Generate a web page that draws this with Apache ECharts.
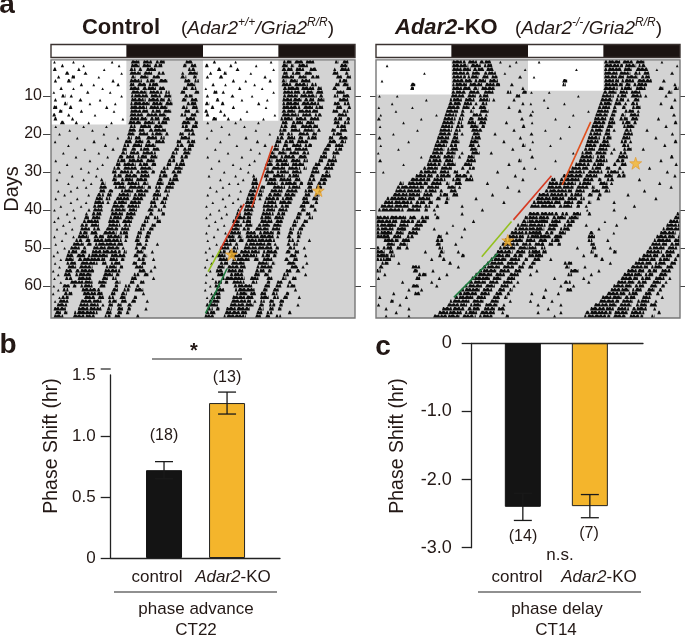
<!DOCTYPE html>
<html><head><meta charset="utf-8">
<style>html,body{margin:0;padding:0;background:#fff}#c{width:685px;height:635px}</style>
<script src="https://cdn.jsdelivr.net/npm/echarts@6/dist/echarts.min.js"></script></head>
<body><div id="c"></div>
<script>
// Per-day activity bouts (flat start,end pairs, in hours of the 48 h row)
const controlBouts = [
[.4,.7,3.4,3.7,9.5,9.8,12.6,14,14.5,16,16.5,18,21.2,22.4],
[1.6,2,5,5.3,10.6,10.9,12.6,14,14.4,15.8,16.2,17.6,20.8,21.4,22,23],
[.3,.9,4.2,4.6,8.3,8.5,12.4,13.4,13.8,14.4,15,16.6,21.6,22.8],
[2.2,2.9,5.2,5.7,11,11.3,12.4,14.2,14.6,16,16.8,18,20.6,21,21.6,23.2],
[1,1.4,3.2,3.8,7.4,7.7,12.6,13.4,14,15.4,16,17.2,20.4,21.4,22.4,23],
[.5,.9,2.5,3.2,9.6,10,12.4,14.4,15,16.4,17,18.4,21,22,22.6,23.4],
[4.6,5,6.6,6.9,10.4,10.8,12.4,13.2,13.6,15,15.4,17,21.4,22.8],
[1.4,1.8,3.4,3.7,8,8.3,12.4,14,14.4,16.6,17,18,20.8,21.6,22,23],
[.3,.6,5.6,6,9.2,9.5,12.6,15.2,15.5,17.6,18,18.8,20.4,21.2,22.6,23.4],
[1.6,2.3,3,3.4,11,11.3,12.6,15.4,15.7,17.4,17.8,19,21,22.4],
[.5,.9,4.4,4.9,7.6,7.9,12.6,15,15.3,18,18.3,19,20.6,21.4,22,23.2],
[2,2.6,6,6.3,10,10.3,12.5,15.6,15.9,17.6,18,19.2,21.4,23],
[.3,1,2.8,3.4,8.6,9,12.5,15.2,15.5,18.4,20.6,21.6,22.2,23.2],
[1.2,1.8,4.6,5,9.8,10.1,12.5,15.4,15.8,17.4,17.7,19,21,22,22.8,23.4],
[.2,.8,2.6,3,6.8,7.1,12.4,14.6,15,18.2,20.4,21.4,22,23],
[.4,1,3.2,3.6,11.2,11.5,12.4,15.2,15.6,17.2,17.6,18.8,21.2,22.8],
[1.4,2.2,3.8,4.2,5.8,6.1,9.4,9.7,12.2,14.2,14.6,16.4,16.8,18.4,20.6,22,22.6,23.2],
[.6,.9,5,5.3,8.6,8.9,12.4,13.4,14,15.8,16.2,17.6,20.6,21.6,22.2,23.2],
[2.8,3.1,6.4,6.7,12.2,13.4,13.8,14.8,15.4,18.2,21,22.6],
[1.2,1.5,8.2,8.5,12,13.2,13.8,15.4,15.8,17.6,18,18.6,20.2,21,21.6,22.8],
[4,4.3,10.4,10.7,12,12.8,13.2,14.2,15,16.8,17.2,18,20.4,22],
[.5,.8,6.6,7,11.6,12.8,13.2,14.6,15,15.8,16.4,18,19.8,20.6,21.4,22.8],
[2.6,2.9,8.4,8.8,11.4,12.4,12.8,14.4,14.8,16.6,19.8,21,21.6,22.6],
[5.2,5.5,9.6,10,11.2,12,12.6,13.4,14,15.6,16,17.2,19.4,20.2,20.8,22.2],
[1.8,2.1,7.4,7.7,11,12,12.4,14,14.4,16.6,19,20,20.8,22],
[3.8,4.1,8.8,9.1,10.6,11.4,11.8,13.2,13.6,15.2,15.6,16.8,18.8,19.6,20.4,21.6],
[.6,.9,6,6.3,10.4,11.8,12.2,14.6,15,16.4,18.4,19.6,20.4,21],
[2.4,2.7,8,8.3,10.2,11,11.4,13.4,13.8,15.4,15.8,16.6,18.2,19,19.6,21.2],
[4.6,4.9,7.2,7.5,9.8,11,11.4,13.6,14,16,17.6,18.6,19.4,20.8],
[1.2,1.5,5.8,6.1,9.6,10.4,10.8,13,13.4,15.4,15.8,16.4,17.2,18.2,19,20.6],
[3.2,3.5,7,7.3,9.8,11.2,11.6,13.6,14,15.6,17,18.4,19.2,20],
[.8,1.1,5,5.3,7.8,8.2,9.6,10.4,11,13,13.4,15.2,16.8,17.6,18.6,20.2],
[2.6,2.9,6.2,6.5,7.8,8.6,9.8,11.6,12,14,14.4,15.4,16.6,17.8,18.4,19.6],
[4,4.3,5.4,5.7,7.6,8.8,10,11.8,12.2,14.8,15.2,15.8,16.4,17.4,18,19.4],
[1,1.3,3,3.3,7.6,8.6,9,9.8,11,13,13.4,15.4,16.4,17.2,17.8,18.8],
[2,2.3,5.8,6.1,7.2,8.4,8.8,9.6,10.6,12.6,13,15,16,17.4,18.2,18.6],
[.6,.9,4,4.3,7,8.2,8.6,9.4,10.2,12.4,12.8,14.6,16,17,17.6,18.4],
[3,3.3,5.4,5.7,6.8,8.4,8.8,9.2,9.8,12,12.4,14.2,15.6,16.6,17.2,18.2],
[1.4,1.7,4.6,4.9,6.6,8.2,9.6,11.6,12,14,15.6,16.8,17.6,18.2],
[.4,.7,3.4,3.7,5.8,6.2,6.6,8.2,9.4,11.8,12.2,13.6,15.2,16.2,16.8,17.6],
[2.4,2.7,5.4,5.8,6.4,8,9.4,11.4,11.8,13.4,15.4,16.2,17.4,18],
[1,1.3,3.6,3.9,5.2,6,6.4,7.8,9.2,11.2,11.6,13,14.8,15.6,16.2,17],
[.4,.7,2.8,3.1,5,7.6,9,10.8,11.2,12.8,14.6,15.4,16.6,17.4],
[1.8,2.1,4.6,5.8,6.2,7.6,9,11,11.4,12.6,14.2,15,15.8,16.6],
[.8,1.1,3.2,3.5,4.6,6.2,6.6,7.8,8.6,10.6,11,12.4,14,14.8,15.4,16.2],
[2.2,2.5,4.4,5.8,6.2,7.4,8.2,10.4,10.8,12.2,13.6,14.4,15,15.8],
[.4,.7,3.4,3.7,4.2,6,6.7,8.4,8.8,11.2,11.6,12.2,13.4,14.2,14.8,15.6],
[1.6,1.9,3.8,5,5.4,6.2,6.7,11.2,11.6,12,13.2,14,14.8,15.4],
[.6,.9,3.4,5.2,5.6,6.4,6.9,11.4,13.4,14.4,14.8,15.2,16.6,17],
[2,2.3,3,4.6,5,5.6,6.6,10.8,11.2,11.6,13.2,13.8,14.2,15],
[.9,1.2,2.6,4.2,4.6,5.6,6.4,11,11.4,12,13.4,14.6,15.8,16.2],
[.3,.6,2.4,3.6,4,5.4,5.8,9,9.4,11.8,13,13.8,14.4,15.2],
[1.4,1.7,2.2,3.6,4.2,8.6,9.2,10.6,11,11.6,13.6,14.8,16,16.4],
[.5,.8,2.4,4,4.6,7.4,8,8.8,9.4,11,12.8,13.6,14.2,15],
[1.2,1.5,2.6,4,4.4,6.6,8.6,10.4,10.8,11.4,13.2,14.6,16.2,16.6],
[.2,.5,2.2,3.4,3.8,6.8,8.4,11,13.8,15,15.6,16],
[1,1.3,2,3.2,3.8,6.4,8.2,9.8,10.2,10.8,13,14,14.6,15.4],
[.4,.7,2.2,3.4,4.2,6.4,8,9,9.6,10.4,12.6,13.6,16,16.4],
[1.4,1.7,3,6.6,7.4,8.8,10,11,12.4,13.2,14,14.8],
[.3,.6,1.8,3,3.4,4,4.6,6.6,7.6,8.6,10,10.6,11.6,12.6,13.4,14],
[1,1.3,1.8,2.8,4.8,7.8,9.6,10.6,11.4,12.4,13.2,14.6],
[.2,.5,2,3.4,5,8.2,9.4,10.2,11,12,14.4,14.8],
[1.2,1.5,1.6,2.8,5.2,7,7.4,8.4,9,10,10.8,11.8,13,13.6],
[.5,.8,1.2,2.8,4.6,8,9,10.4,11,12,12.6,13.4,15,15.4],
[.9,2.6,4.4,7.6,8,8.4,9,9.8,10.4,11.2,12,12.8],
[.4,2.4,4.2,8,8.8,9.6,10.4,11.4,12,12.6,14.8,15.2],
[.6,1.6,2,2.6,3.6,7.4,8.6,9.6,10.4,11.2,11.8,12.4],
[.4,2,3.4,7,8.4,9.4,10,11,13.4,14],
[.2,1.8,3.2,6.8,8.2,9.2,9.8,10.6,11.4,12.4]
];
const koBouts = [
[12,14.2,14.5,16,16.3,18.2,19.5,19.8,22,22.3],
[1.6,1.9,12,14.6,14.9,16.6,17,18.4,21,21.3],
[12,15,15.3,17.1,17.4,18.6,23.4,23.7],
[7.5,7.8,12,14.8,15.1,16.4,17,19,20.2,20.5],
[12,14.2,14.4,16.2,16.7,17.8,18.2,19.2,22.5,23],
[.8,1.1,12,15.2,15.5,17.4,17.8,19.3],
[5.4,6.2,12,14.4,14.7,16.8,17.2,19.6,21.2,21.7],
[5.4,6,12,15,15.3,16.2,16.6,18.8,23,23.4],
[11.9,14.2,14.6,16.4,17,18.6,20.6,21.4,23,23.8],
[.4,.7,3.2,3.5,11.8,14,14.4,15.8,16.2,17.8,22,22.8],
[7.8,8.1,11.6,13.6,14,15.6,16.2,18,18.4,18.8,21.6,22],
[2.4,2.7,11.4,13.4,13.8,15.2,15.6,16,16.6,17.6,23,23.4],
[.3,.6,5.6,5.9,11.2,13.2,13.6,14.8,15.2,15.6,16.2,17.4,20.8,21.2],
[3,3.3,11,13,13.4,14,14.8,15.4,16.4,17.8,22.4,23],
[.6,.9,9.4,9.7,10.8,12.8,13.2,14,15.2,16.8,17.2,17.6],
[.2,.7,7,7.3,10.6,12.6,13,13.8,14.6,15.4,16,17.6,22.8,23.3],
[4.2,4.5,10.4,12.4,12.8,13.6,14.4,15.8,16.2,17.4,20.4,20.8],
[.5,.8,10.2,12.2,12.6,13.8,14.8,16.2,16.6,17.2,23,23.6],
[6.4,6.7,10,12,12.4,13.4,15,16.8,21.6,22],
[2.6,2.9,9.8,11.8,12.2,13,13.4,13.8,15.2,16.4,18.6,19],
[.3,.8,9.6,11.6,12,13,15,16.6,22.6,23],
[5,5.3,9.4,11.4,11.8,13.2,14.8,16.2,20,20.4],
[.6,.9,9.2,11.2,11.6,12.8,14.6,15.6,16,16.4,23,23.6],
[3.4,3.7,9,10.8,11.2,13,14.8,16,21.4,21.8],
[.2,.5,8.8,10.6,11,12.6,13.4,13.8,15,16.4,18,18.4],
[7,7.3,8.4,10.2,10.6,12.4,13,13.4,14.4,15.6],
[.4,.9,8.2,10.4,10.8,12.2,14.2,15.8,22.4,23],
[4.2,4.5,8,10.2,10.6,12.6,13.8,15.2,20.8,21.2],
[7.4,9.8,10.2,12,13.4,14,14.6,15.6,23.2,23.6],
[1,1.3,6.8,9.6,10,11.6,12.2,13,14.2,14.8,19,19.4],
[6.2,9,9.4,11.8,12.4,14.4,14.8,15.2,21.8,22.2],
[5.4,8.6,9,11,12,13.4,14,15.4,23,23.4],
[3.6,4.4,5,8.2,8.6,10.4,11,11.6,12.4,13.6,17.4,17.8],
[3.2,7.6,8,10,11.2,12.6,13,13.4,20.6,21],
[3,7.2,7.6,9.6,10,10.6,11.6,12.8,22.4,22.8],
[2.6,7,7.4,9,10,11.4,12,13,18.2,18.6],
[1.6,6.2,6.6,8.6,9.4,10.2,11,11.6,15.6,16],
[1.2,5.8,6.2,7.8,8.2,9,10.8,11.4,20,20.4],
[.7,5.2,5.6,7.2,7.6,8.6,9.4,10,13.4,13.8],
[.3,4.4,4.8,7,7.6,8.2,9,9.4,16.6,17],
[24,28.8,29.2,30.4,31,32.4,9.2,9.5,13.4,13.8],
[23.4,24,24,27.4,27.8,30,30.6,32,9.4,10],
[23,24,24,27.2,27.6,29.2,30,31.4,6.4,6.8,15.2,15.6],
[22.2,24,24,26.8,27.2,28.8,29.6,31,1.8,2.6,12,12.3],
[21.8,24,24,26.6,27,28.4,29,30.6,4,4.6,9,9.4,13.8,14.2],
[21.2,24,24,26.2,26.6,28,28.8,30,1.2,2,6.2,6.6,11,11.4],
[20.8,23.4,23.8,25.8,26.2,27.6,28.4,29.4,1,2.2,9.6,10.4,13.4,13.7],
[20.2,23.2,23.6,25.2,25.6,27,27.6,28.6,1.2,2.6,4,5,9.4,10.6],
[19.8,22.6,23,24,24,24.6,25,26.6,27.2,28,4.2,5,9.4,10.2,12.4,12.8],
[19.4,22,22.4,24,24,25.4,26,26.8,2,2.6,4.6,5.2,9.8,10.6],
[19,21.6,22,23.6,24,25.6,26.2,27,7.6,8,10,10.8,12.8,13.2],
[18.6,21.2,21.6,23.2,24,25,25.4,26,.8,2,9.8,10.4,13.4,14],
[18,20.6,21,22.8,23.4,24,1,2.4,8.6,9,10.4,11],
[17.4,20.2,20.6,22.4,23,23.6,.8,2,3.4,3.8,11.4,12],
[16.8,19.6,20,21.8,22.4,23.4,.4,1.2,5.6,7,12.8,13.2],
[16.2,19,19.4,21.2,21.8,23,0,.8,5.8,6.6,8.8,9.2],
[15.6,18.4,18.8,20.4,21,22.6,6.6,8,1.2,1.6,11,11.4],
[15,18,18.4,19.8,20.6,22,.2,.6,6.2,7,9.8,10.2],
[14.6,17.4,17.8,19.4,20,21.6,22.2,22.6,4,4.4,8.6,9],
[14,16.8,17.2,18.8,19.6,21,21.6,22,5.6,6.8,9.4,9.8],
[13.4,16.4,16.8,18.4,19.2,20.4,21,21.6,5,5.4,7,7.4],
[13,16,16.4,18,18.8,20,20.6,21.2,2.6,3,6,7],
[12.4,15.4,15.8,17.4,18.4,19.6,20.2,20.8,4.6,5,.4,.8],
[11.6,14.8,15.2,17,18,19.4,21,21.4,2.2,2.8],
[11.2,14.4,14.8,16.6,17.2,19.2,20,20.4,3.6,4,.2,.6],
[10.4,14,14.4,16.4,17,18.8,19.2,20.4,1.4,1.8,5,5.4],
[9.8,13.6,14,16,16.4,18.8,19.8,20.2,3,3.4],
[9,13.2,13.6,15.8,16.2,18.4,20.4,21,1.4,1.8,5,5.4],
[8.8,13,13.4,15.4,16,18.2,19.4,20,4,4.4]
];
const dayTicks = [10, 20, 30, 40, 50, 60];
const lightEdges = [0, 11.9, 24, 35.9, 48];
const controlLightEnds = [17.5, 16.5];
const koLightEnds = [9.6, 8.6];
const controlRed1 = [[35, 23.1], [31.7, 39.3]];
const controlRed2 = [[30.5, 38.4], [26.7, 50.5]];
const controlLime = [[26.7, 50.5], [24.8, 56.2]];
const controlGreen = [[27.8, 55.4], [24.4, 67.2]];
const controlStars = [[42.2, 34.9], [28.5, 51.7]];
const koRed1 = [[33.9, 16.8], [29.4, 33.4]];
const koRed2 = [[27.7, 31], [21.7, 42.6]];
const koLime = [[21.4, 43], [16.7, 52.3]];
const koGreen = [[19.2, 51.4], [12.3, 63]];
const koStars = [[41, 27.7], [20.8, 48]];
const barCats = [1, 2];
const advanceMeans = [0.72, 1.27];
const advanceLow = [0.65, 1.18];
const advanceHigh = [0.79, 1.36];
const delayMeans = [-2.4, -2.39];
const delayLow = [-2.6, -2.56];
const delayHigh = [-2.2, -2.22];
const advanceTicks = [0, 0.5, 1.0, 1.5];
const delayTicks = [-3, -2, -1, 0];

const FONT = '"Liberation Sans", Arial, sans-serif';
const INK = '#231815';
const BLACK = '#141414', ORANGE = '#f4b52c';
const STAR = 'path://M50 0 L62 35 L98 35 L69 57 L80 93 L50 71 L20 93 L31 57 L2 35 L38 35 Z';
// drawing texture of a bout: irregular comb of activity peaks (purely a line style)
const TOOTH_W = [3.2, 4.4, 2.8, 5, 3.6, 4, 3];
const TOOTH_DIP = [-0.6, -0.2, 1.6, -0.9, 0.4, -0.4, 1.6, -1, 0.2];

function rowsFrom(bouts) {
  const out = [];
  bouts.forEach((pairs, i) => {
    const d = i + 1;
    for (let k = 0; k < pairs.length; k += 2) {
      const s = pairs[k], e = pairs[k + 1];
      out.push([s, e, d]);
      if (s < 24) out.push([s + 24, e + 24, d - 1]);
      else out.push([s - 24, e - 24, d + 1]);
    }
  });
  return out;
}
function renderBout(params, api) {
  const a = api.coord([api.value(0), api.value(2)]);
  const b = api.coord([api.value(1), api.value(2)]);
  const w = b[0] - a[0], y = a[1], base = y + 1.6, top = y - 1.8;
  if (w <= 3.4) {
    const c = (a[0] + b[0]) / 2, hw = Math.max(1.3, w / 2 + 0.4);
    return { type: 'polygon', shape: { points: [[c - hw, base], [c, w < 2.4 ? y - 1 : top], [c + hw, base]] }, style: { fill: '#0d0d0d' } };
  }
  const pts = [[a[0], base]];
  let x = a[0], i = (params.dataIndex * 5) % 7, j = (params.dataIndex * 3) % 9;
  while (x < b[0]) {
    const nx = Math.min(b[0], x + TOOTH_W[i % 7]);
    pts.push([x + (nx - x) * 0.35, top]);
    pts.push([x + (nx - x) * 0.65, top]);
    pts.push([nx, nx >= b[0] ? base : y + TOOTH_DIP[j % 9]]);
    x = nx; i++; j++;
  }
  return { type: 'polygon', shape: { points: pts }, style: { fill: '#0d0d0d' } };
}
function renderZone(params, api) {
  const a = api.coord([api.value(0), api.value(2)]);
  const b = api.coord([api.value(1), api.value(3)]);
  return { type: 'rect', shape: { x: a[0], y: a[1], width: b[0] - a[0], height: b[1] - a[1] },
    style: { fill: api.value(4) ? '#ffffff' : '#d3d3d3' } };
}
function renderLD(params, api) {
  const a = api.coord([api.value(0), 1]);
  const b = api.coord([api.value(1), 0]);
  return { type: 'rect', shape: { x: a[0], y: a[1], width: b[0] - a[0], height: b[1] - a[1] },
    style: api.value(2) === 2 ? { fill: 'none', stroke: '#3a3230', lineWidth: 1.4 } : { fill: api.value(2) ? '#ffffff' : '#1c1412' } };
}
function renderError(params, api) {
  const x = api.coord([api.value(0), 0])[0];
  const lo = api.coord([0, api.value(1)])[1];
  const hi = api.coord([0, api.value(2)])[1];
  const cap = 9, st = { stroke: '#1a1a1a', lineWidth: 1.3 };
  return { type: 'group', children: [
    { type: 'line', shape: { x1: x, y1: lo, x2: x, y2: hi }, style: st },
    { type: 'line', shape: { x1: x - cap, y1: lo, x2: x + cap, y2: lo }, style: st },
    { type: 'line', shape: { x1: x - cap, y1: hi, x2: x + cap, y2: hi }, style: st }] };
}
function lineSeries(i, data, color) {
  return { type: 'line', xAxisIndex: i, yAxisIndex: i, data, showSymbol: false, silent: true, z: 6, animation: false,
    lineStyle: { color, width: 1.6 } };
}
const grids = [
  { left: 51, top: 58, width: 304, height: 260 },
  { left: 376, top: 58, width: 304, height: 260 },
  { left: 51, top: 44.5, width: 304, height: 13 },
  { left: 376, top: 44.5, width: 304, height: 13 },
  { left: 110.7, top: 375, width: 169.3, height: 183 },
  { left: 471.7, top: 343.3, width: 171.3, height: 204.4 }
];
const xAxes = [
  { gridIndex: 0, type: 'value', min: 0, max: 48, show: false },
  { gridIndex: 1, type: 'value', min: 0, max: 48, show: false },
  { gridIndex: 2, type: 'value', min: 0, max: 48, show: false },
  { gridIndex: 3, type: 'value', min: 0, max: 48, show: false },
  { gridIndex: 4, type: 'value', min: 0.154, max: 2.84, splitLine: { show: false }, axisTick: { show: false }, axisLabel: { show: false },
    axisLine: { show: true, lineStyle: { color: '#222', width: 1.3 } } },
  { gridIndex: 5, type: 'value', min: 0.237, max: 2.793, splitLine: { show: false }, axisTick: { show: false }, axisLabel: { show: false },
    axisLine: { show: true, onZero: true, lineStyle: { color: '#222', width: 1.3 } } }
];
function dayAxis(grid, position, labels, tickLen) {
  return { gridIndex: grid, type: 'value', inverse: true, min: 0, max: 68.42, position, splitLine: { show: false },
    axisLine: { show: false },
    axisTick: { show: true, customValues: dayTicks, length: tickLen, lineStyle: { color: '#444', width: 1 } },
    axisLabel: { show: labels, customValues: dayTicks, color: INK, fontFamily: FONT, fontSize: 16, margin: 9, formatter: v => String(v) } };
}
const yAxes = [
  dayAxis(0, 'left', true, 8),
  dayAxis(1, 'left', false, 6),
  { gridIndex: 2, type: 'value', min: 0, max: 1, show: false },
  { gridIndex: 3, type: 'value', min: 0, max: 1, show: false },
  { gridIndex: 4, type: 'value', min: 0, max: 1.5, interval: 0.5, splitLine: { show: false },
    axisLine: { show: true, lineStyle: { color: '#222', width: 1.3 } },
    axisTick: { show: true, length: 10, customValues: [0, 0.5, 1.0], lineStyle: { color: '#222', width: 1.3 } },
    axisLabel: { color: INK, fontFamily: FONT, fontSize: 17, margin: 15, customValues: advanceTicks, formatter: v => v === 0 ? '0' : v.toFixed(1) } },
  { gridIndex: 5, type: 'value', min: -3, max: 0, interval: 1, splitLine: { show: false },
    axisLine: { show: true, onZero: false, lineStyle: { color: '#222', width: 1.3 } },
    axisTick: { show: true, length: 10, lineStyle: { color: '#222', width: 1.3 } },
    axisLabel: { color: INK, fontFamily: FONT, fontSize: 18, margin: 20, customValues: delayTicks, formatter: v => v === 0 ? '0' : v.toFixed(1) } },
  dayAxis(0, 'right', false, 6),
  dayAxis(1, 'right', false, 6)
];
function zones(ends) {
  return [[0, 48, 0.5, 68.42, 0], [0, 11.9, 0.5, ends[0], 1], [24, 35.9, 0.5, ends[1], 1]];
}
function ldData() {
  const out = [];
  for (let i = 0; i < lightEdges.length - 1; i++) out.push([lightEdges[i], lightEdges[i + 1], i % 2 === 0 ? 1 : 0]);
  out.push([0, 48, 2]);
  return out;
}
function frame(i) {
  return { type: 'custom', xAxisIndex: i, yAxisIndex: i, silent: true, z: 5, data: [[0, 48, 0.5, 68.42]],
    renderItem: (p, api) => {
      const a = api.coord([api.value(0), api.value(2)]), b = api.coord([api.value(1), api.value(3)]);
      return { type: 'rect', shape: { x: a[0], y: a[1], width: b[0] - a[0], height: b[1] - a[1] }, style: { fill: 'none', stroke: '#777', lineWidth: 1.4 } };
    } };
}
const series = [
  { type: 'custom', xAxisIndex: 0, yAxisIndex: 0, silent: true, z: 1, clip: true, renderItem: renderZone, data: zones(controlLightEnds) },
  { type: 'custom', xAxisIndex: 1, yAxisIndex: 1, silent: true, z: 1, clip: true, renderItem: renderZone, data: zones(koLightEnds) },
  { type: 'custom', xAxisIndex: 0, yAxisIndex: 0, silent: true, z: 2, clip: true, renderItem: renderBout, data: rowsFrom(controlBouts).filter(r => r[2] >= 1) },
  { type: 'custom', xAxisIndex: 1, yAxisIndex: 1, silent: true, z: 2, clip: true, renderItem: renderBout, data: rowsFrom(koBouts).filter(r => r[2] >= 1) },
  frame(0), frame(1),
  { type: 'custom', xAxisIndex: 2, yAxisIndex: 2, silent: true, renderItem: renderLD, data: ldData() },
  { type: 'custom', xAxisIndex: 3, yAxisIndex: 3, silent: true, renderItem: renderLD, data: ldData() },
  lineSeries(0, controlRed1, '#d9401f'), lineSeries(0, controlRed2, '#d63a22'), lineSeries(0, controlLime, '#93c01f'), lineSeries(0, controlGreen, '#1d7a3e'),
  lineSeries(1, koRed1, '#e0501e'), lineSeries(1, koRed2, '#d63a22'), lineSeries(1, koLime, '#93c01f'), lineSeries(1, koGreen, '#1d7a3e'),
  { type: 'scatter', xAxisIndex: 0, yAxisIndex: 0, symbol: STAR, symbolSize: 12, z: 7, silent: true, data: controlStars, itemStyle: { color: '#f6b62e', borderColor: '#e0952a', borderWidth: 0.8 } },
  { type: 'scatter', xAxisIndex: 1, yAxisIndex: 1, symbol: STAR, symbolSize: 12, z: 7, silent: true, data: koStars, itemStyle: { color: '#f6b62e', borderColor: '#e0952a', borderWidth: 0.8 } },
  { type: 'bar', xAxisIndex: 4, yAxisIndex: 4, barWidth: 36, silent: true, z: 2,
    data: [{ value: [barCats[0], advanceMeans[0]], itemStyle: { color: BLACK, borderColor: BLACK, borderWidth: 1 } }, { value: [barCats[1], advanceMeans[1]], itemStyle: { color: ORANGE, borderColor: '#222', borderWidth: 1 } }] },
  { type: 'bar', xAxisIndex: 5, yAxisIndex: 5, barWidth: 36, silent: true, z: 2,
    data: [{ value: [barCats[0], delayMeans[0]], itemStyle: { color: BLACK, borderColor: BLACK, borderWidth: 1 } }, { value: [barCats[1], delayMeans[1]], itemStyle: { color: ORANGE, borderColor: '#222', borderWidth: 1 } }] },
  { type: 'custom', xAxisIndex: 4, yAxisIndex: 4, silent: true, z: 3, clip: false, renderItem: renderError, data: barCats.map((c, i) => [c, advanceLow[i], advanceHigh[i]]) },
  { type: 'custom', xAxisIndex: 5, yAxisIndex: 5, silent: true, z: 3, clip: false, renderItem: renderError, data: barCats.map((c, i) => [c, delayLow[i], delayHigh[i]]) }
];
const supRich = {
  i: { fontStyle: 'italic', fontFamily: FONT, fontSize: 19, fill: INK },
  n: { fontFamily: FONT, fontSize: 19, fill: INK },
  s: { fontStyle: 'italic', fontFamily: FONT, fontSize: 12, fill: INK, verticalAlign: 'top', lineHeight: 24, padding: [0, 0, 8, 0] }
};
function txt(x, y, text, size, opts) {
  return { type: 'text', x, y, style: Object.assign({ text, fontFamily: FONT, fontSize: size, fill: INK, textAlign: 'center', textVerticalAlign: 'middle' }, opts || {}) };
}
function rule(x1, x2, y) {
  return { type: 'line', shape: { x1, y1: y, x2, y2: y }, style: { stroke: '#222', lineWidth: 1.2 } };
}
const koRich = { i: { fontStyle: 'italic', fontFamily: FONT, fontSize: 17, fill: INK }, n: { fontFamily: FONT, fontSize: 17, fill: INK } };
const graphicEls = [
  txt(7, 5, 'a', 28, { fontWeight: 'bold' }),
  txt(8, 345, 'b', 28, { fontWeight: 'bold' }),
  txt(383, 347, 'c', 28, { fontWeight: 'bold' }),
  txt(121, 28, 'Control', 22, { fontWeight: 'bold' }),
  txt(181, 29, '{n|(}{i|Adar2}{s|+/+}{i|/Gria2}{s|R/R}{n|)}', 19, { rich: supRich, textAlign: 'left' }),
  txt(395, 28, '{a|Adar2}{b|-KO}', 22, { textAlign: 'left', rich: {
    a: { fontFamily: FONT, fontSize: 22, fontWeight: 'bold', fontStyle: 'italic', fill: INK },
    b: { fontFamily: FONT, fontSize: 22, fontWeight: 'bold', fill: INK } } }),
  txt(515, 29, '{n|(}{i|Adar2}{s|-/-}{i|/Gria2}{s|R/R}{n|)}', 19, { rich: supRich, textAlign: 'left' }),
  Object.assign(txt(12, 189, 'Days', 20), { rotation: Math.PI / 2 }),
  Object.assign(txt(52, 446, 'Phase Shift (hr)', 19.5), { rotation: Math.PI / 2 }),
  Object.assign(txt(398, 446, 'Phase Shift (hr)', 19.5), { rotation: Math.PI / 2 }),
  txt(194, 351, '*', 20, { fontWeight: 'bold' }),
  rule(152, 242, 359),
  rule(100.7, 110.7, 369),
  txt(164, 436, '(18)', 16),
  txt(227, 378, '(13)', 16),
  txt(157, 577, 'control', 17),
  txt(233, 577, '{i|Adar2}{n|-KO}', 17, { rich: koRich }),
  rule(114, 277, 592),
  txt(196, 609, 'phase advance', 17),
  txt(196, 630, 'CT22', 17),
  txt(523, 537, '(14)', 16),
  txt(589, 534, '(7)', 16),
  txt(560, 555, 'n.s.', 17),
  txt(517, 577, 'control', 17),
  txt(599, 577, '{i|Adar2}{n|-KO}', 17, { rich: koRich }),
  rule(478, 641, 592),
  txt(557, 609, 'phase delay', 17),
  txt(556, 630, 'CT14', 17)
];
const chart = echarts.init(document.getElementById('c'), null, { renderer: 'canvas' });
chart.setOption({ animation: false, backgroundColor: '#fff', grid: grids, xAxis: xAxes, yAxis: yAxes, series, graphic: { elements: graphicEls } });
</script></body></html>
